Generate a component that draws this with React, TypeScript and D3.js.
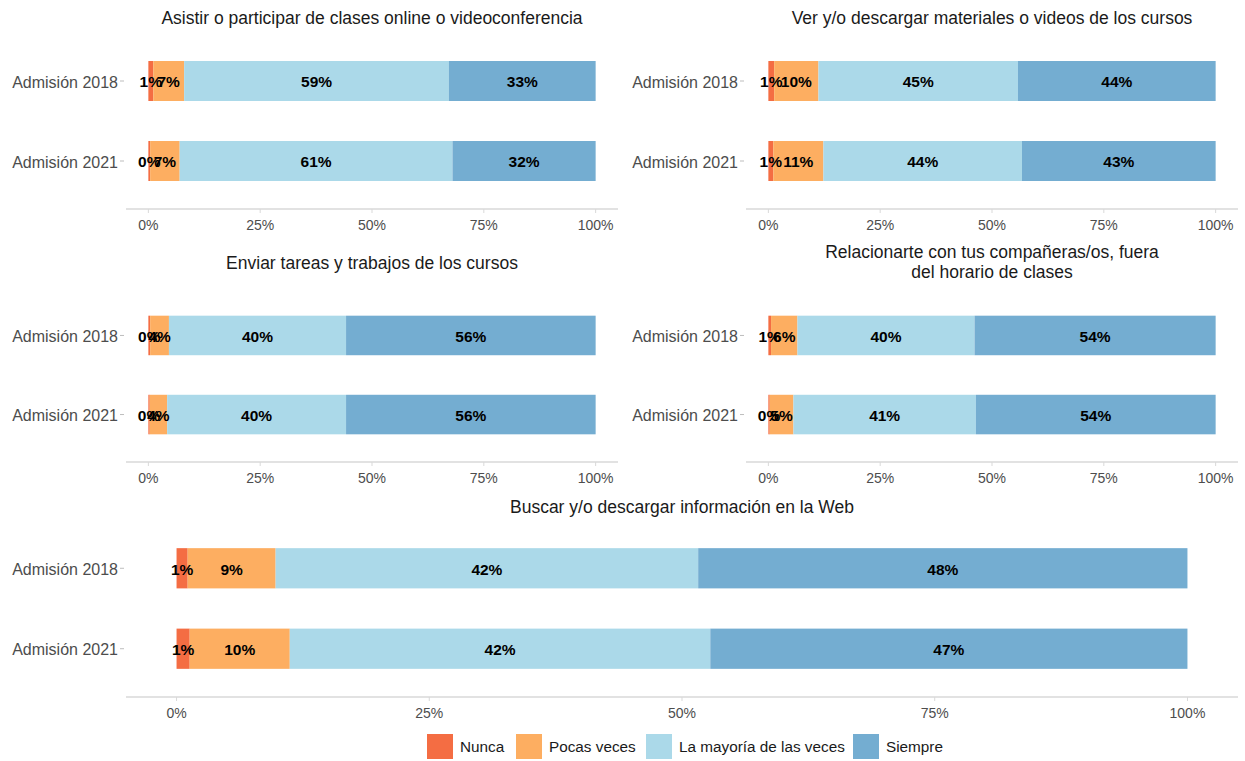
import React from "react";
import * as d3 from "d3";

const categories = ["Nunca", "Pocas veces", "La mayoría de las veces", "Siempre"];
const colors = ["#F46D43", "#FDAE61", "#ABD9E9", "#74ADD1"];
const groups = ["Admisión 2018", "Admisión 2021"];
const xTicks = [0, 0.25, 0.5, 0.75, 1];

const p1_2018 = [1.1, 6.9, 59.2, 32.8];
const p1_2021 = [0.4, 6.6, 61.0, 32.0];
const p2_2018 = [1.3, 9.9, 44.6, 44.2];
const p2_2021 = [1.1, 11.2, 44.4, 43.3];
const p3_2018 = [0.4, 4.2, 39.6, 55.8];
const p3_2021 = [0.3, 3.9, 40.0, 55.8];
const p4_2018 = [0.6, 5.9, 39.6, 53.9];
const p4_2021 = [0.3, 5.3, 40.8, 53.6];
const p5_2018 = [1.1, 8.7, 41.8, 48.4];
const p5_2021 = [1.3, 9.9, 41.6, 47.2];

const titles = [
  ["Asistir o participar de clases online o videoconferencia"],
  ["Ver y/o descargar materiales o videos de los cursos"],
  ["Enviar tareas y trabajos de los cursos"],
  ["Relacionarte con tus compañeras/os, fuera", "del horario de clases"],
  ["Buscar y/o descargar información en la Web"],
];

const FONT = "'Liberation Sans', Arial, Helvetica, sans-serif";

type PanelProps = {
  x0: number; x1: number; yTop: number; yBot: number;
  titleLines: string[]; titleY: number; data: number[][];
};

function Panel({ x0, x1, yTop, yBot, titleLines, titleY, data }: PanelProps) {
  const inner = (x1 - x0) / 1.1;
  const x = d3.scaleLinear().domain([0, 1]).range([x0 + inner * 0.05, x1 - inner * 0.05]);
  const y = d3.scaleBand().domain(groups).range([yTop, yBot]).paddingInner(0.5).paddingOuter(0.35);
  const cx = (x0 + x1) / 2;
  return (
    <g>
      {titleLines.map((t, i) => (
        <text key={i} x={cx} y={titleY + i * 20} dy="0.35em" textAnchor="middle" fontSize={17.5} fill="#1a1a1a">{t}</text>
      ))}
      {groups.map((g, gi) => {
        const vals = data[gi];
        const total = d3.sum(vals);
        let cum = 0;
        const segs = vals.map((v, ci) => {
          const s = cum / total; cum += v; const e = cum / total;
          return { s, e, v, ci };
        });
        const yy = y(g)!;
        const bw = y.bandwidth();
        return (
          <g key={g}>
            <line x1={x0 - 6} x2={x0 - 2} y1={yy + bw / 2} y2={yy + bw / 2} stroke="#bdbdbd" />
            <text x={x0 - 8} y={yy + bw / 2 + 1} dy="0.35em" textAnchor="end" fontSize={16} fill="#4d4d4d">{g}</text>
            {segs.map((sg) => (
              <rect key={sg.ci} x={x(sg.s)} y={yy} width={x(sg.e) - x(sg.s)} height={bw} fill={colors[sg.ci]} />
            ))}
            {segs.map((sg) => (
              <text key={"t" + sg.ci} x={(x(sg.s) + x(sg.e)) / 2} y={yy + bw / 2 + 1} dy="0.35em" textAnchor="middle" fontSize={15.5} fontWeight="bold" fill="#000">
                {Math.round(sg.v) + "%"}
              </text>
            ))}
          </g>
        );
      })}
      <line x1={x0} x2={x1} y1={yBot} y2={yBot} stroke="#d9d9d9" strokeWidth={1.5} />
      {xTicks.map((t) => (
        <g key={t}>
          <line x1={x(t)} x2={x(t)} y1={yBot} y2={yBot + 4} stroke="#d9d9d9" />
          <text x={x(t)} y={yBot + 16} dy="0.35em" textAnchor="middle" fontSize={14} fill="#4d4d4d">{d3.format(".0%")(t)}</text>
        </g>
      ))}
    </g>
  );
}

const legendKeyX = [427, 516, 646, 853];

export default function App() {
  return (
    <svg width={1245} height={761} style={{ position: "absolute", left: 0, top: 0, fontFamily: FONT }}>
      <rect width={1245} height={761} fill="#fff" />
      <Panel x0={126} x1={618} yTop={33} yBot={209} titleLines={titles[0]} titleY={18} data={[p1_2018, p1_2021]} />
      <Panel x0={746} x1={1238} yTop={33} yBot={209} titleLines={titles[1]} titleY={18} data={[p2_2018, p2_2021]} />
      <Panel x0={126} x1={618} yTop={288} yBot={462} titleLines={titles[2]} titleY={263} data={[p3_2018, p3_2021]} />
      <Panel x0={746} x1={1238} yTop={288} yBot={462} titleLines={titles[3]} titleY={252} data={[p4_2018, p4_2021]} />
      <Panel x0={126} x1={1238} yTop={520} yBot={697} titleLines={titles[4]} titleY={507} data={[p5_2018, p5_2021]} />
      {categories.map((c, i) => (
        <g key={c}>
          <rect x={legendKeyX[i]} y={734} width={26} height={25} fill={colors[i]} />
          <text x={legendKeyX[i] + 33} y={747} dy="0.35em" fontSize={15.3} fill="#1a1a1a">{c}</text>
        </g>
      ))}
    </svg>
  );
}
